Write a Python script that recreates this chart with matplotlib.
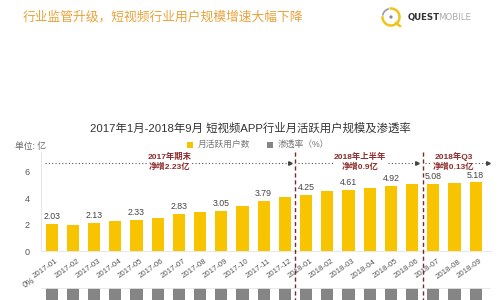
import matplotlib
matplotlib.use("Agg")
import matplotlib.pyplot as plt
import matplotlib.transforms as mtransforms
from matplotlib.patches import Rectangle, Arc, Circle

plt.rcParams['font.family'] = ['Liberation Sans', 'Noto Sans CJK SC', 'DejaVu Sans']

# data
months = ['2017-01', '2017-02', '2017-03', '2017-04', '2017-05', '2017-06',
          '2017-07', '2017-08', '2017-09', '2017-10', '2017-11', '2017-12',
          '2018-01', '2018-02', '2018-03', '2018-04', '2018-05', '2018-06',
          '2018-07', '2018-08', '2018-09']
mau = [2.03, 1.97, 2.13, 2.24, 2.33, 2.48, 2.83, 2.95, 3.05, 3.43, 3.79, 4.10,
       4.25, 4.50, 4.61, 4.78, 4.92, 5.02, 5.08, 5.14, 5.18]
# penetration bars are cut off at the bottom of the picture (estimates)
penetration = [19.7, 19.2, 20.6, 21.6, 22.3, 23.7, 27.0, 27.9, 28.9, 32.2, 35.7,
               37.9, 39.3, 41.6, 42.4, 43.6, 44.9, 45.6, 46.4, 46.8, 47.2]
labeled = [0, 2, 4, 6, 8, 10, 12, 14, 16, 18, 20]
# periods: (first bar, last bar, text)
periods = [(0, 11, '2017年期末\n净增2.23亿'),
           (12, 17, '2018年上半年\n净增0.9亿'),
           (18, 20, '2018年Q3\n净增0.13亿')]

YELLOW = '#F8C400'
GRAY = '#858585'
DARKRED = '#8E2C2C'

fig = plt.figure(figsize=(5, 3), dpi=100)

ax = fig.add_axes([0.0822, 0.1633, 0.8988, 0.3313])
x = list(range(len(months)))
ax.bar(x, mau, width=0.57, color=YELLOW, zorder=2)
ax.set_xlim(-0.5, 20.7)
ax.set_ylim(0, 7.5)
ax.set_yticks([0, 2, 4, 6])
ax.tick_params(axis='y', length=0, labelsize=6.5, labelcolor='#555555', pad=8)
ax.tick_params(axis='x', length=0)
for s in ['top', 'right']:
    ax.spines[s].set_visible(False)
ax.spines['left'].set_color('#e3e3e3')
ax.spines['bottom'].set_color('#e3e3e3')
ax.spines['left'].set_linewidth(0.6)
ax.spines['bottom'].set_linewidth(0.6)

ax.set_xticks(x)
ax.set_xticklabels(months, rotation=35, ha='right', va='top',
                   rotation_mode='anchor', fontsize=5.7, color='#555555')
offset = mtransforms.ScaledTranslation(4 / 100, -2 / 100, fig.dpi_scale_trans)
for lbl in ax.get_xticklabels():
    lbl.set_transform(lbl.get_transform() + offset)

for i in labeled:
    ax.annotate(f'{mau[i]:.2f}', (x[i], mau[i]), xytext=(0, 2),
                textcoords='offset points', ha='center', va='bottom',
                fontsize=6.3, color='#444444', zorder=7)

# period separators and annotations
line_y = 6.64
for k, (a, b, txt) in enumerate(periods):
    last = k == len(periods) - 1
    x0 = a - 0.33 if k == 0 else a - 0.38
    x1 = b + 0.58 if last else b + 0.25
    ax.plot([x0, x1], [line_y, line_y], color='#555555', lw=0.8,
            linestyle=(0, (1, 2)), zorder=3, clip_on=False)
    ax.plot([x1], [line_y], marker='>', color='#444444', markersize=2.6,
            zorder=3, clip_on=False)
    xc = (x0 + x1) / 2 + (-0.15 if last else 0.1)
    ax.text(xc, line_y + 0.1, txt, ha='center', va='center',
            fontsize=6.0, fontweight='bold', color=DARKRED, linespacing=1.25,
            zorder=4, bbox=dict(facecolor='white', edgecolor='none', pad=0.4))
    if k > 0:
        ax.plot([a - 0.5, a - 0.5], [7.5, -3.8], color='#7A2A2A', lw=1.0,
                linestyle=(0, (3, 2)), zorder=5, clip_on=False)

# penetration bars (lower panel, mostly off the picture)
ax2 = fig.add_axes([0.0822, -0.2, 0.8988, 0.24])
ax2.bar(x, penetration, width=0.57, color=GRAY)
ax2.set_xlim(-0.5, 20.7)
ax2.set_ylim(50, 0)
ax2.axis('off')
fig.add_artist(plt.Line2D([0.0822, 0.98], [0.041, 0.041], color='#e8e8e8', lw=0.6))
fig.text(0.058, 0.058, '0%', fontsize=6.2, color='#555555', rotation=30,
         ha='center', va='center')

# titles and legend
fig.text(0.046, 0.943, '行业监管升级，短视频行业用户规模增速大幅下降',
         fontsize=9.2, color='#E8A33A', ha='left', va='center')
fig.text(0.5, 0.573, '2017年1月-2018年9月 短视频APP行业月活跃用户规模及渗透率',
         fontsize=8.2, color='#333333', ha='center', va='center')
fig.text(0.03, 0.513, '单位: 亿', fontsize=6.3, color='#666666',
         ha='left', va='center')
fig.add_artist(Rectangle((0.374, 0.508), 0.012, 0.02, transform=fig.transFigure,
                         facecolor=YELLOW, edgecolor='none'))
fig.text(0.396, 0.518, '月活跃用户数', fontsize=6.3, color='#777777',
         ha='left', va='center')
fig.add_artist(Rectangle((0.533, 0.508), 0.012, 0.02, transform=fig.transFigure,
                         facecolor=GRAY, edgecolor='none'))
fig.text(0.555, 0.518, '渗透率（%）', fontsize=6.3, color='#777777',
         ha='left', va='center')

# logo
lax = fig.add_axes([380 / 500, 1 - 28 / 300, 22 / 500, 22 / 300])
lax.set_xlim(-11, 11)
lax.set_ylim(-11, 11)
lax.axis('off')
lax.add_patch(Arc((0, 0), 17, 17, theta1=175, theta2=100, color='#F0C419', lw=1.8))
lax.add_patch(Arc((0, 0), 17, 17, theta1=105, theta2=170, color='#999999', lw=1.2))
lax.add_patch(Circle((0, 0), 0.9, color='#888888'))
lax.plot([5, 9], [-6, -9], color='#F0C419', lw=1.8)
fig.text(0.816, 0.943, 'QUEST', fontsize=6.2, fontweight='bold', color='#333333',
         ha='left', va='center', family='DejaVu Sans')
fig.text(0.876, 0.943, 'MOBILE', fontsize=6.2, color='#aaaaaa',
         ha='left', va='center', family='DejaVu Sans')

fig.savefig('out.png', dpi=100)
